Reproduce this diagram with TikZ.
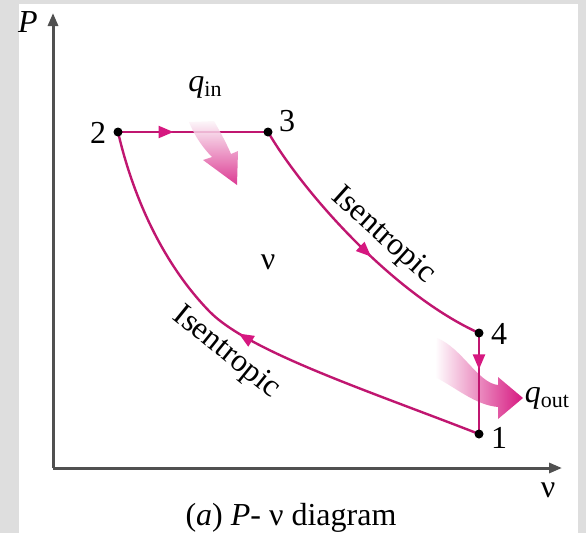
\documentclass[tikz,border=0pt]{standalone}
\usepackage{fontspec}
\setmainfont{Liberation Serif}
\usetikzlibrary{arrows.meta,decorations.markings}
\definecolor{bggray}{RGB}{222,222,222}
\definecolor{mag}{RGB}{192,22,112}
\definecolor{magtip}{RGB}{214,24,128}
\definecolor{axisgray}{RGB}{80,80,80}
\begin{document}
\begin{tikzpicture}[x=1pt,y=-1pt,
  lbl/.style={inner sep=0pt, font=\fontsize{32}{36}\selectfont},
  proc/.style={draw=mag, line width=2.4pt},
  axisline/.style={draw=axisgray, line width=3pt, -{Triangle[length=13pt,width=10pt]}},
  statept/.style={circle, fill=black, inner sep=0pt, minimum size=9pt},
  midarrow/.style={postaction={decorate}, decoration={markings,
      mark=at position #1 with {\arrow{Triangle[length=15pt,width=12pt,color=magtip]}}}},
]
\useasboundingbox (0,0) rectangle (586,533);
\fill[bggray] (0,0) rectangle (586,533);
\fill[white] (19,4) rectangle (578,533);

% axes
\coordinate (O) at (53,468);
\coordinate (Ptip) at (53,13);
\coordinate (Vtip) at (562,468);
\draw[axisline] (O) -- (Ptip);
\draw[axisline] (O) -- (Vtip);

% state coordinates
\coordinate (p2) at (118,132);
\coordinate (p3) at (268,132);
\coordinate (p4) at (479,333);
\coordinate (p1) at (479,434);
\coordinate (m12) at (210,312);

% heat out arrow (under the line)
\shade[left color=white, right color=magtip]
  (437,338) .. controls (462,348) and (478,383) .. (498,385) -- (498,377) -- (523,398)
  -- (498,419) -- (498,407) .. controls (475,405) and (455,387) .. (435,377) -- cycle;

% processes
\draw[proc, midarrow=0.37] (p2) -- (p3);
\draw[proc, midarrow=0.55] (p3) .. controls (305,195) and (395,295) .. (p4);
\draw[proc, midarrow=0.36] (p4) -- (p1);
\draw[proc, midarrow=0.52] (p1) .. controls (369,391) and (250,352) .. (m12)
  .. controls (163,264) and (133,197) .. (p2);

% heat in arrow
\shade[top color=mag!4, bottom color=magtip, opacity=0.85]
  (189,122) .. controls (195,137) and (204,149) .. (212,157) -- (203,160) -- (237,185)
  -- (238,151) -- (231,154) .. controls (225,140) and (219,130) .. (214,121) -- cycle;

% state points
\node[statept] (n2) at (p2) {};
\node[statept] (n3) at (p3) {};
\node[statept] (n4) at (p4) {};
\node[statept] (n1) at (p1) {};

% labels
\node[lbl] (l2) at (98,133) {2};
\node[lbl] (l3) at (287,121) {3};
\node[lbl] (l4) at (499,334) {4};
\node[lbl] (l1) at (499,438) {1};
\node[lbl] (lP) at (28,22) {\itshape P};
\node[lbl] (lv) at (548,490) {ν};
\node[lbl] (lvmid) at (268,262) {ν};
\node[lbl, rotate=-42] (iso1) at (383,236) {Isentropic};
\node[lbl, rotate=-39] (iso2) at (226,353) {Isentropic};
\node[lbl] (qin) at (205,87) {\itshape q\/\upshape\raisebox{-0.35ex}{\fontsize{22}{22}\selectfont in}};
\node[lbl] (qout) at (547,398) {\itshape q\/\upshape\raisebox{-0.35ex}{\fontsize{22}{22}\selectfont out}};
\node[lbl] (cap) at (291,518) {(\textit{a}) \textit{P}- ν diagram};
\end{tikzpicture}
\end{document}
